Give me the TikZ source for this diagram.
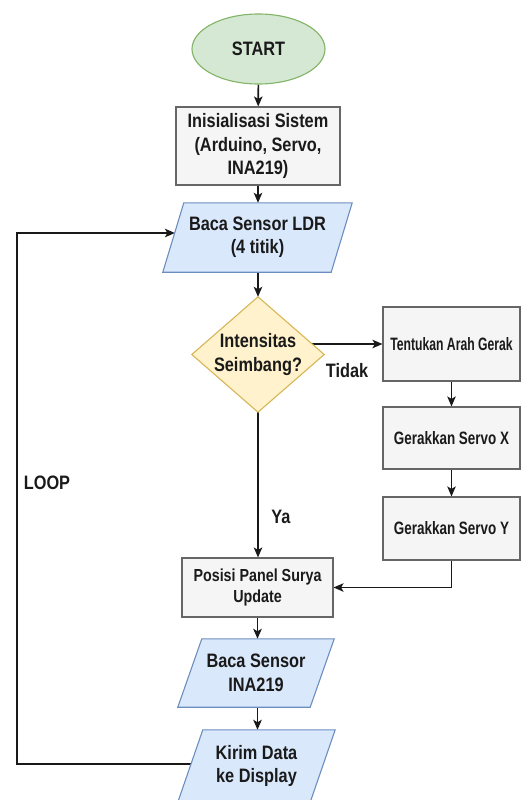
\documentclass[tikz,border=0pt]{standalone}
\usepackage{fontspec}
\setmainfont{Liberation Sans}[FakeStretch=0.84]
\newfontfamily\fb{Liberation Sans}[FakeStretch=0.75]
\newfontfamily\fc{Liberation Sans}[FakeStretch=0.68]
\newfontfamily\fd{Liberation Sans}[FakeStretch=0.82]
\usetikzlibrary{arrows.meta,backgrounds,shapes.geometric}
\definecolor{gfill}{HTML}{D5E8D4}
\definecolor{gdraw}{HTML}{82B366}
\definecolor{pfill}{HTML}{F5F5F5}
\definecolor{pdraw}{HTML}{666666}
\definecolor{bfill}{HTML}{DAE8FC}
\definecolor{bdraw}{HTML}{6C8EBF}
\definecolor{yfill}{HTML}{FFF2CC}
\definecolor{ydraw}{HTML}{D6B656}
\definecolor{txtc}{HTML}{1A1A1A}
\begin{document}
\begin{tikzpicture}[x=1bp,y=-1bp,
  txt/.style={font=\bfseries\fontsize{19.5}{23.5}\selectfont, text=txtc, align=center, inner sep=0pt},
  procbox/.style={txt, draw=pdraw, fill=pfill, line width=1.1bp},
  narrowtxt/.style={font=\fb\bfseries\fontsize{18}{22}\selectfont},
  narrowertxt/.style={font=\fc\bfseries\fontsize{18}{22}\selectfont},
  iobox/.style={draw=bdraw, fill=bfill, line width=1.1bp},
  decbox/.style={draw=ydraw, fill=yfill, line width=1.1bp},
  arr/.style={-{Stealth[length=10bp,width=8.5bp,inset=2.5bp]}, line width=1.6bp, draw=black!90},
]
\useasboundingbox (0,0) rectangle (522,800);

% nodes
\node[txt, ellipse, draw=gdraw, fill=gfill, line width=1.1bp, minimum width=133bp, minimum height=70bp] (start) at (258.5,49) {START};
\node[procbox, minimum width=164bp, minimum height=78bp] (init) at (258,146) {Inisialisasi Sistem\\(Arduino, Servo,\\INA219)};
\node[txt, minimum width=189bp, minimum height=69bp] (ldr) at (257.5,237.5) {Baca Sensor LDR\\(4 titik)};
\node[txt, minimum width=132bp, minimum height=115bp] (dec) at (258,354.5) {Intensitas\\Seimbang?};
\node[procbox, narrowertxt, minimum width=137bp, minimum height=74bp] (tent) at (451.5,344) {Tentukan Arah Gerak};
\node[procbox, narrowtxt, minimum width=137bp, minimum height=62bp] (servox) at (451.5,438) {Gerakkan Servo X};
\node[procbox, narrowtxt, minimum width=137bp, minimum height=63bp] (servoy) at (451.5,528.5) {Gerakkan Servo Y};
\node[procbox, font=\fd\bfseries\fontsize{17.5}{22}\selectfont, minimum width=151bp, minimum height=59bp] (posisi) at (257.5,587.5) {Posisi Panel Surya\\Update};
\node[txt, minimum width=156bp, minimum height=68bp] (ina) at (256,673) {Baca Sensor\\INA219};
\node[txt, minimum width=157bp, minimum height=72bp] (kirim) at (256.5,766) {Kirim Data\\ke Display};

% labels
\node[txt] (tidak) at (347,371) {Tidak};
\node[txt] (ya) at (281,517) {Ya};
\node[txt] (loop) at (47,483) {LOOP};

\coordinate (loopc) at (17,764);
\coordinate (ldrin) at (174.9,233);

\begin{scope}[on background layer]
  % connectors
  \draw[arr] (start) -- (init);
  \draw[arr] (init.south) -- (init.south |- ldr.north);
  \draw[arr] (dec.north |- ldr.south) -- (dec.north);
  \draw[arr] (dec.center |- tent.west) -- (tent.west);
  \draw[arr] (tent) -- (servox);
  \draw[arr] (servox) -- (servoy);
  \draw[arr] (servoy.south) |- (posisi.east);
  \draw[arr] (dec.south) -- (dec.south |- posisi.north);
  \draw[arr] (posisi.south) -- (posisi.south |- ina.north);
  \draw[arr] (posisi.south |- ina.south) -- (posisi.south |- kirim.north);
  \draw[arr] (kirim.center |- loopc) -- (loopc) |- (ldrin);
  % shapes
  \draw[iobox] ([xshift=21bp]ldr.north west) -- (ldr.north east) -- ([xshift=-21bp]ldr.south east) -- (ldr.south west) -- cycle;
  \draw[decbox] (dec.north) -- (dec.east) -- (dec.south) -- (dec.west) -- cycle;
  \draw[iobox] ([xshift=24bp]ina.north west) -- (ina.north east) -- ([xshift=-24bp]ina.south east) -- (ina.south west) -- cycle;
  \draw[iobox] ([xshift=25bp]kirim.north west) -- (kirim.north east) -- ([xshift=-25bp]kirim.south east) -- (kirim.south west) -- cycle;
\end{scope}
\end{tikzpicture}
\end{document}
